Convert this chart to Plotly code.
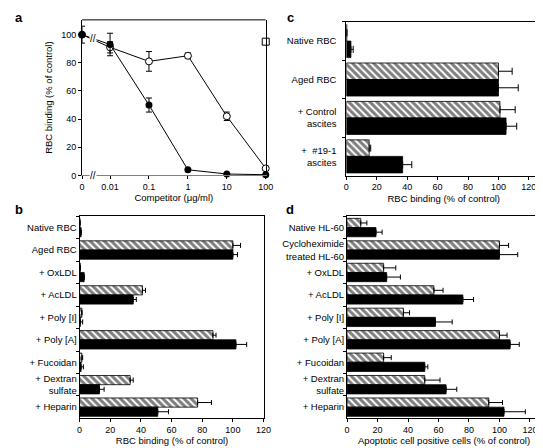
import math
import plotly.graph_objects as go

# ---------------- data ----------------
# panel a
conc = [0, 0.01, 0.1, 1, 10, 100]
conc_labels = ["0", "0.01", "0.1", "1", "10", "100"]
filled_vals = [100, 93, 50, 4, 1, 0.5]
filled_err = [6, 8, 5, 0, 0, 0]
open_vals = [100, 91, 81, 85, 42, 5]
open_err = [0, 4, 7, 2, 3, 0]
square_conc = [100]
square_vals = [95]

# panel b
cats_b = ["Native RBC", "Aged RBC", "+ OxLDL", "+ AcLDL", "+ Poly [I]", "+ Poly [A]",
          "+ Fucoidan", "+ Dextran<br>sulfate", "+ Heparin"]
hatch_b = [0.3, 100, 0.5, 41, 1.5, 87, 1.5, 33, 77]
hatch_b_err = [0, 5, 0, 2, 0, 2, 0.5, 2, 9]
black_b = [1, 100, 3, 35, 0.5, 102, 1, 13, 51]
black_b_err = [0, 3, 0, 2, 1.5, 7, 1.5, 3, 7]

# panel c
cats_c = ["Native RBC", "Aged RBC", "+ Control<br>ascites", "+  #19-1<br>ascites"]
hatch_c = [0.3, 100, 101, 15]
hatch_c_err = [0, 9, 10, 1]
black_c = [3, 100, 105, 37]
black_c_err = [1.5, 13, 7, 6]

# panel d
cats_d = ["Native HL-60", "Cycloheximide<br>treated HL-60", "+ OxLDL", "+ AcLDL", "+ Poly [I]",
          "+ Poly [A]", "+ Fucoidan", "+ Dextran<br>sulfate", "+ Heparin"]
hatch_d = [9, 100, 24, 57, 37, 100, 24, 51, 93]
hatch_d_err = [4, 6, 8, 6, 4, 5, 5, 10, 9]
black_d = [19, 100, 26, 76, 58, 107, 51, 65, 103]
black_d_err = [4, 12, 9, 7, 11, 6, 2, 7, 14]

bar_ticks = [0, 20, 40, 60, 80, 100, 120]
a_yticks = [0, 20, 40, 60, 80, 100]

# ---------------- helpers ----------------
W, H = 543, 448
ZERO_POS = -0.72  # position of the "0" concentration, left of the axis break


def cpos(c):
    return math.log10(c) + 2 if c > 0 else ZERO_POS


FONT = "Liberation Sans, Arial, Helvetica, sans-serif"
fig = go.Figure()

# ---------------- panel a ----------------
fig.add_trace(go.Scatter(
    x=[cpos(c) for c in conc], y=open_vals, mode="lines+markers",
    line=dict(color="black", width=1),
    marker=dict(symbol="circle", size=7, color="white", line=dict(color="black", width=1)),
    error_y=dict(type="data", array=open_err, color="black", thickness=1, width=3),
    xaxis="x", yaxis="y", cliponaxis=False, showlegend=False))
fig.add_trace(go.Scatter(
    x=[cpos(c) for c in conc], y=filled_vals, mode="lines+markers",
    line=dict(color="black", width=1),
    marker=dict(symbol="circle", size=7, color="black"),
    error_y=dict(type="data", array=filled_err, color="black", thickness=1, width=3),
    xaxis="x", yaxis="y", cliponaxis=False, showlegend=False))
fig.add_trace(go.Scatter(
    x=[cpos(c) for c in square_conc], y=square_vals, mode="markers",
    marker=dict(symbol="square", size=7, color="white", line=dict(color="black", width=1)),
    xaxis="x", yaxis="y", cliponaxis=False, showlegend=False))


# ---------------- bar panels ----------------
def add_bars(cats, hv, he, bv, be, xa, ya, width, capw):
    n = len(cats)
    fig.add_trace(go.Bar(
        y=cats, x=hv, orientation="h", width=width, offset=-width,
        marker=dict(color="white", line=dict(color="black", width=0.8),
                    pattern=dict(shape="\\", fgcolor="black", bgcolor="white",
                                 size=5, solidity=0.6)),
        error_x=dict(type="data", symmetric=False, array=he, arrayminus=[0] * n,
                     color="black", thickness=1, width=capw),
        xaxis=xa, yaxis=ya, showlegend=False))
    fig.add_trace(go.Bar(
        y=cats, x=bv, orientation="h", width=width, offset=0,
        marker=dict(color="black", line=dict(color="black", width=0.8)),
        error_x=dict(type="data", symmetric=False, array=be, arrayminus=[0] * n,
                     color="black", thickness=1, width=capw),
        xaxis=xa, yaxis=ya, showlegend=False))


add_bars(cats_b, hatch_b, hatch_b_err, black_b, black_b_err, "x2", "y2", 0.41, 2.5)
add_bars(cats_c, hatch_c, hatch_c_err, black_c, black_c_err, "x3", "y3", 0.43, 3.5)
add_bars(cats_d, hatch_d, hatch_d_err, black_d, black_d_err, "x4", "y4", 0.41, 2.5)

# ---------------- axes ----------------
tickfont = dict(family=FONT, size=9, color="black")
catfont = dict(family=FONT, size=9.5, color="black")
titlefont = dict(family=FONT, size=9.5, color="black")


def px_x(a, b):
    return [a / W, b / W]


def px_y(top, bottom):
    return [1 - bottom / H, 1 - top / H]


common_x = dict(showline=True, linecolor="black", linewidth=1, ticks="outside", ticklen=3,
                tickcolor="black", tickwidth=1, showgrid=False, zeroline=False,
                tickfont=tickfont)
common_cat = dict(type="category", showline=True, linecolor="black", linewidth=1, mirror=True,
                  ticks="outside", ticklen=3, tickson="boundaries", tickcolor="black",
                  showgrid=False, zeroline=False, tickfont=catfont)

layout = dict(
    width=W, height=H, margin=dict(l=0, r=0, t=0, b=0),
    paper_bgcolor="white", plot_bgcolor="white", showlegend=False,
    font=dict(family=FONT, color="black"),
    # panel a
    xaxis=dict(domain=px_x(72.5, 260), range=[ZERO_POS, 4.0], anchor="y",
               tickvals=[cpos(c) for c in conc], ticktext=conc_labels,
               showline=True, linecolor="#808080", linewidth=1, mirror=False,
               ticks="outside", ticklen=3, tickcolor="black", showgrid=False, zeroline=False,
               tickfont=tickfont,
               title=dict(text="Competitor (μg/ml)", font=titlefont, standoff=3)),
    yaxis=dict(domain=px_y(12, 169.3), range=[0, 110.5], anchor="x",
               tickvals=a_yticks, showline=True, linecolor="black", linewidth=1, mirror=True,
               ticks="outside", ticklen=3, tickcolor="black", showgrid=False, zeroline=False,
               tickfont=tickfont,
               title=dict(text="RBC binding (% of control)", font=titlefont, standoff=6)),
    # panel b
    xaxis2=dict(domain=px_x(70, 258.7), range=[0, 120.6], anchor="y2", mirror=True,
                tickvals=bar_ticks, **common_x,
                title=dict(text="RBC binding (% of control)", font=titlefont, standoff=3)),
    yaxis2=dict(domain=px_y(210.7, 415), range=[len(cats_b) - 0.5, -0.5], anchor="x2",
                **common_cat),
    # panel c
    xaxis3=dict(domain=px_x(342.3, 541), range=[0, 128], anchor="y3", mirror=True,
                tickvals=bar_ticks, **common_x,
                title=dict(text="RBC binding (% of control)", font=titlefont, standoff=3)),
    yaxis3=dict(domain=px_y(14, 169.5), range=[len(cats_c) - 0.5, -0.5], anchor="x3",
                ticklabelstandoff=7, **common_cat),
    # panel d
    xaxis4=dict(domain=px_x(343, 541), range=[0, 127.3], anchor="y4", mirror=True,
                tickvals=bar_ticks, **common_x,
                title=dict(text="Apoptotic cell positive cells (% of control)", font=titlefont,
                           standoff=3)),
    yaxis4=dict(domain=px_y(210.7, 415), range=[len(cats_d) - 0.5, -0.5], anchor="x4",
                **common_cat),
)
fig.update_layout(**layout)

# top border of panel a (x axis line itself is grey)
fig.add_shape(type="line", xref="x domain", yref="y domain", x0=0, x1=1, y0=1, y1=1,
              line=dict(color="black", width=1))

# axis-break marks in panel a
for yb in (0, 97):
    fig.add_annotation(x=-0.44, y=yb, xref="x", yref="y", text="//", showarrow=False,
                       font=dict(family=FONT, size=10, color="black"), bgcolor="white",
                       borderpad=0)

# panel letters
for letter, xp, yp in (("a", 8, 10), ("b", 8, 204), ("c", 285, 10), ("d", 285, 204)):
    fig.add_annotation(x=xp / W, y=1 - yp / H, xref="paper", yref="paper", text=f"<b>{letter}</b>",
                       showarrow=False, font=dict(family=FONT, size=13, color="black"),
                       xanchor="center", yanchor="middle")

fig.write_html("out.html")
